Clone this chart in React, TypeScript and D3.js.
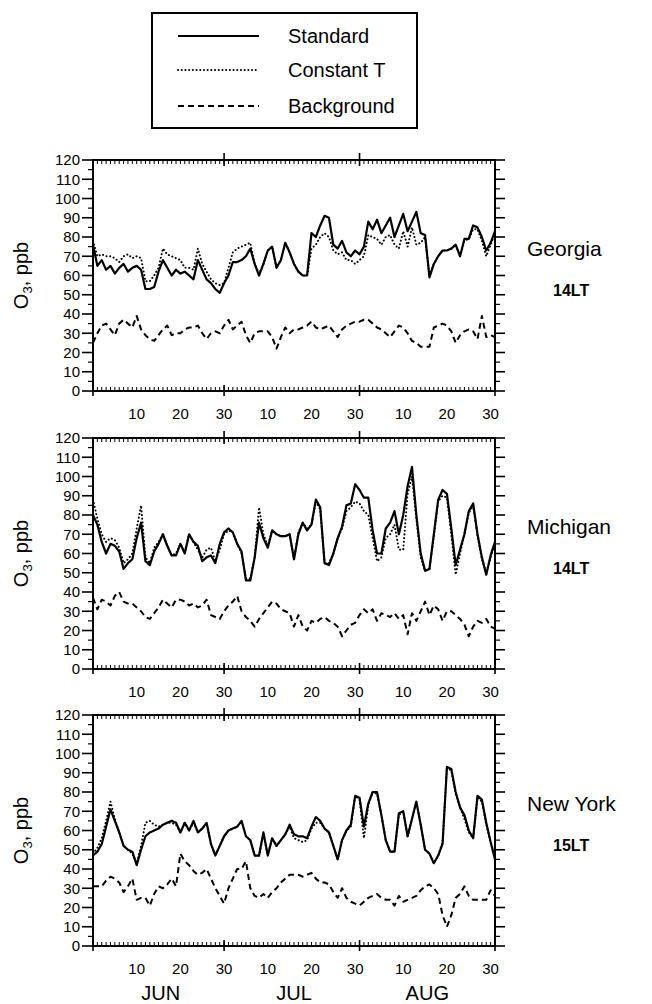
import React from "react";
import * as d3 from "d3";

// Day index: 0 = May 31, 1 = June 1 ... 92 = Aug 31
const monthLabels = ["JUN", "JUL", "AUG"];
const monthMid = [15.5, 46, 76.5];
const xTickDays = [10, 20, 30, 40, 50, 60, 71, 81, 91];
const xTickLabels = ["10", "20", "30", "10", "20", "30", "10", "20", "30"];
const monthBounds = [30, 61];
const yTicks = [0, 10, 20, 30, 40, 50, 60, 70, 80, 90, 100, 110, 120];

const seriesNames = ["Standard", "Constant T", "Background"];

const georgiaStd = [76,65,68,63,65,61,64,66,62,64,65,63,53,53,54,62,68,64,60,63,61,62,60,58,68,63,58,56,53,51,56,60,67,67,68,70,74,66,60,66,73,75,64,68,77,72,66,62,60,60,82,80,86,91,90,76,74,78,72,70,73,71,75,88,84,89,82,86,90,80,86,92,83,88,93,82,81,59,66,70,73,73,74,76,70,79,79,86,85,80,73,77,83];
const georgiaConst = [78,70,71,70,70,69,67,70,71,69,70,69,57,57,60,64,74,71,70,69,68,64,64,63,74,66,62,58,56,55,56,64,72,74,75,76,77,66,61,66,73,75,64,68,77,72,66,62,60,60,74,76,80,82,80,73,71,72,68,68,66,68,70,81,80,79,76,80,81,76,74,83,75,85,76,77,80,60,66,70,73,73,74,76,70,78,79,84,84,78,70,76,82];
const georgiaBg = [25,30,34,35,32,29,35,37,35,33,39,32,29,27,26,29,32,34,29,30,30,32,33,33,34,30,27,30,31,30,34,37,32,34,36,29,25,30,31,31,31,28,22,28,33,30,32,32,33,34,36,33,32,33,34,31,28,32,34,35,36,36,37,37,35,33,32,30,28,31,34,33,30,26,25,23,23,23,33,34,35,34,31,25,29,31,32,31,27,39,28,29,28];

const michiganStd = [80,75,66,60,65,64,61,52,55,57,68,76,56,54,61,65,70,64,59,59,65,60,70,66,64,56,58,59,55,65,71,73,71,65,61,46,46,58,76,68,63,72,70,69,69,70,57,70,76,72,75,88,84,55,54,60,68,74,85,86,96,93,89,89,72,60,60,73,76,82,70,80,95,105,80,60,51,52,70,88,93,91,73,54,62,70,82,86,70,58,49,59,66];
const michiganConst = [88,78,70,66,68,67,63,55,57,60,73,85,58,55,63,66,70,64,59,60,65,61,70,66,62,58,62,63,56,62,70,72,71,65,60,47,47,58,84,70,64,72,70,69,69,70,57,71,76,73,75,87,83,55,55,60,68,73,82,84,87,86,82,80,68,56,58,68,70,75,62,62,91,100,78,58,51,52,69,87,90,89,70,49,60,70,81,85,69,57,50,58,66];
const michiganBg = [37,31,36,35,33,38,40,35,34,34,32,30,27,26,29,32,36,34,32,36,36,35,33,34,32,33,36,28,27,26,30,33,35,38,30,27,25,22,26,29,32,35,34,31,30,29,22,28,22,20,25,24,26,27,25,24,22,17,20,23,24,28,31,29,31,25,29,28,27,29,26,28,18,29,25,30,35,28,33,31,25,30,30,28,26,23,17,22,25,24,26,22,21];

const newYorkStd = [47,49,53,62,71,65,59,52,50,49,42,50,57,59,60,61,63,64,65,64,59,64,60,65,59,61,64,53,47,52,57,60,61,62,65,57,55,47,47,59,47,56,52,55,58,63,58,57,57,56,62,67,65,61,59,52,45,55,60,63,78,77,62,74,80,80,68,55,49,49,69,70,57,66,75,63,50,48,43,47,53,93,92,80,72,68,60,56,78,76,64,54,45];
const newYorkConst = [48,51,56,65,75,66,59,52,50,48,43,52,64,65,63,62,63,64,64,63,59,64,60,64,59,61,64,53,47,52,57,60,61,62,65,57,55,47,47,58,47,56,52,55,58,62,56,55,54,55,61,64,64,61,59,52,45,55,60,62,78,76,56,73,80,79,68,55,49,49,68,70,57,66,75,63,50,48,43,47,54,93,91,79,72,66,59,56,77,75,63,54,46];
const newYorkBg = [31,31,31,34,36,35,33,28,31,35,24,25,25,21,27,31,30,32,35,31,48,44,42,39,37,38,40,35,30,26,22,30,35,40,40,44,30,26,25,27,25,28,30,33,35,37,37,37,36,37,38,35,33,33,32,28,25,30,25,23,22,21,23,25,26,27,25,24,24,21,26,23,24,25,26,29,31,32,30,27,16,10,16,25,27,31,26,24,24,24,24,29,26];

const regionNames = ["Georgia", "Michigan", "New York"];
const regionTimes = ["14LT", "14LT", "15LT"];

const panelData = [
  [georgiaStd, georgiaConst, georgiaBg],
  [michiganStd, michiganConst, michiganBg],
  [newYorkStd, newYorkConst, newYorkBg],
];

const W = 652;
const H = 1004;
const left = 93;
const right = 495;
const panelTops = [160, 438, 715];
const panelH = 231;
const FONT = "'Liberation Sans', Arial, sans-serif";

const dashes = ["none", "0.1,3.6", "6,4"];

function Panel({ idx }: { idx: number }) {
  const top = panelTops[idx];
  const bottom = top + panelH;
  const x = d3.scaleLinear().domain([0, 92]).range([left, right]);
  const y = d3.scaleLinear().domain([0, 120]).range([bottom, top]);
  const line = d3
    .line<number>()
    .x((_, i) => x(i))
    .y((d) => y(d));
  const days = d3.range(0, 93);
  const minorY = d3.range(5, 120, 10);
  const series = panelData[idx];
  const labelY = y(74);
  return (
    <g>
      <rect x={left} y={top} width={right - left} height={panelH} fill="none" stroke="#000" strokeWidth={2} />
      {yTicks.map((v) => (
        <g key={"ly" + v}>
          <line x1={left - 11} x2={left} y1={y(v)} y2={y(v)} stroke="#000" strokeWidth={1.6} />
          <text x={left - 13} y={y(v)} dy="0.36em" textAnchor="end" fontSize={15} fontFamily={FONT}>
            {v}
          </text>
          <line x1={right} x2={right + 10} y1={y(v)} y2={y(v)} stroke="#000" strokeWidth={1.6} />
        </g>
      ))}
      {minorY.map((v) => (
        <g key={"my" + v}>
          <line x1={left - 5} x2={left} y1={y(v)} y2={y(v)} stroke="#000" strokeWidth={1.2} />
          <line x1={right} x2={right + 5} y1={y(v)} y2={y(v)} stroke="#000" strokeWidth={1.2} />
        </g>
      ))}
      {days.map((d) => (
        <g key={"dx" + d}>
          <line x1={x(d)} x2={x(d)} y1={bottom} y2={bottom - 4} stroke="#000" strokeWidth={1} />
          <line x1={x(d)} x2={x(d)} y1={top} y2={top + 4} stroke="#000" strokeWidth={1} />
        </g>
      ))}
      {monthBounds.map((d) => (
        <g key={"mb" + d}>
          <line x1={x(d)} x2={x(d)} y1={bottom - 6} y2={bottom + 5} stroke="#000" strokeWidth={1.6} />
          <line x1={x(d)} x2={x(d)} y1={top - 7} y2={top + 6} stroke="#000" strokeWidth={1.6} />
        </g>
      ))}
      <line x1={left} x2={left} y1={bottom} y2={bottom + 5} stroke="#000" strokeWidth={1.6} />
      <line x1={right} x2={right} y1={bottom} y2={bottom + 5} stroke="#000" strokeWidth={1.6} />
      {xTickDays.map((d, i) => (
        <text key={"xl" + d} x={x(d)} y={bottom + 23} dy="0.36em" textAnchor="middle" fontSize={15} fontFamily={FONT}>
          {xTickLabels[i]}
        </text>
      ))}
      {series.map((s, si) => (
        <path
          key={"s" + si}
          d={line(s) || ""}
          fill="none"
          stroke="#000"
          strokeWidth={si === 0 ? 2.2 : 2}
          strokeDasharray={dashes[si]}
          strokeLinecap={si === 1 ? "round" : "butt"}
          strokeLinejoin="round"
        />
      ))}
      <text
        transform={`translate(28,${(top + bottom) / 2}) rotate(-90)`}
        textAnchor="middle"
        fontSize={20}
        fontFamily={FONT}
      >
        O<tspan fontSize={13} dy="4">3</tspan>
        <tspan dy="-4">, ppb</tspan>
      </text>
      <text x={527} y={labelY} dy="0.36em" fontSize={21} fontFamily={FONT}>
        {regionNames[idx]}
      </text>
      <text x={553} y={labelY + 42} dy="0.36em" fontSize={16} fontFamily={FONT} fontWeight="bold">
        {regionTimes[idx]}
      </text>
    </g>
  );
}

export default function App() {
  const xb = d3.scaleLinear().domain([0, 92]).range([left, right]);
  const legendRows = [36, 70, 106];
  return (
    <svg width={W} height={H} style={{ position: "absolute", left: 0, top: 0, background: "#fff" }}>
      <rect x={0} y={0} width={W} height={H} fill="#fff" />
      <rect x={152} y={13} width={265} height={115} fill="none" stroke="#000" strokeWidth={2} />
      {seriesNames.map((n, i) => (
        <g key={n}>
          <line
            x1={178}
            x2={259}
            y1={legendRows[i]}
            y2={legendRows[i]}
            stroke="#000"
            strokeWidth={2}
            strokeDasharray={dashes[i]}
            strokeLinecap={i === 1 ? "round" : "butt"}
          />
          <text x={288} y={legendRows[i]} dy="0.36em" fontSize={20} fontFamily={FONT}>
            {n}
          </text>
        </g>
      ))}
      {[0, 1, 2].map((i) => (
        <Panel key={i} idx={i} />
      ))}
      {monthLabels.map((m, i) => (
        <text key={m} x={xb(monthMid[i])} y={993} dy="0.36em" textAnchor="middle" fontSize={20} fontFamily={FONT}>
          {m}
        </text>
      ))}
    </svg>
  );
}
